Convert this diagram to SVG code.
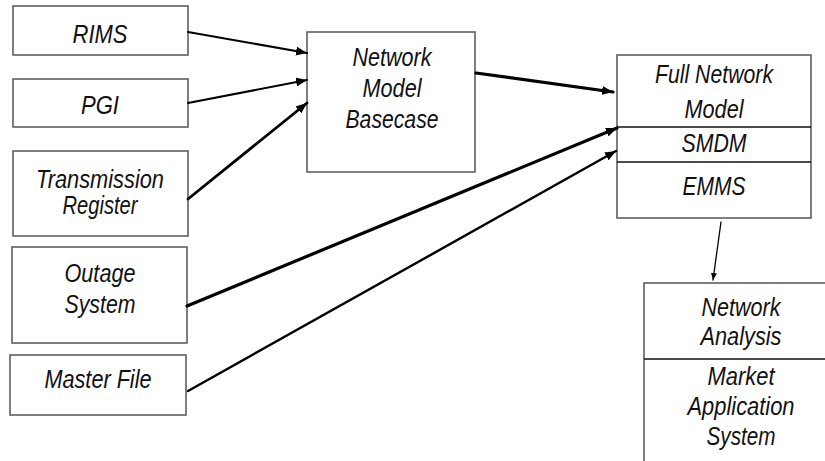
<svg xmlns="http://www.w3.org/2000/svg" width="825" height="461" viewBox="0 0 825 461">
<style>
.box{fill:#fff;stroke:#555;stroke-width:1.5}
.div{stroke:#111;stroke-width:1.5}
.t{font-family:"Liberation Sans",Arial,sans-serif;font-style:italic;font-size:25px;fill:#111;text-anchor:middle}
.c{fill:none;stroke:#000;stroke-linecap:round}
</style>
<defs>
<marker id="ah" markerUnits="userSpaceOnUse" markerWidth="12" markerHeight="9" refX="11" refY="4.5" orient="auto">
<path d="M0,0 L11,4.5 L0,9 z" fill="#000"/>
</marker>
<marker id="ahs" markerUnits="userSpaceOnUse" markerWidth="8" markerHeight="7" refX="7" refY="3" orient="auto">
<path d="M0,0 L7,3 L0,6 z" fill="#000"/>
</marker>
</defs>
<rect width="825" height="461" fill="#fff"/>
<g id="rims"><rect class="box" x="13" y="6" width="175" height="49"/><text class="t" x="100" y="43" textLength="55" lengthAdjust="spacingAndGlyphs">RIMS</text></g>
<g id="pgi"><rect class="box" x="13" y="79" width="175" height="48"/><text class="t" x="100" y="114" textLength="38" lengthAdjust="spacingAndGlyphs">PGI</text></g>
<g id="transmission"><rect class="box" x="13" y="151" width="175" height="85"/><text class="t" x="100" y="188" textLength="128" lengthAdjust="spacingAndGlyphs">Transmission</text><text class="t" x="100" y="214" textLength="75" lengthAdjust="spacingAndGlyphs">Register</text></g>
<g id="outage"><rect class="box" x="12" y="247" width="175" height="96"/><text class="t" x="100" y="282" textLength="71" lengthAdjust="spacingAndGlyphs">Outage</text><text class="t" x="100" y="313" textLength="71" lengthAdjust="spacingAndGlyphs">System</text></g>
<g id="master"><rect class="box" x="10" y="355" width="176" height="60"/><text class="t" x="98" y="388" textLength="107" lengthAdjust="spacingAndGlyphs">Master File</text></g>
<g id="basecase"><rect class="box" x="307" y="32" width="168" height="140"/><text class="t" x="392" y="66" textLength="79" lengthAdjust="spacingAndGlyphs">Network</text><text class="t" x="392" y="97" textLength="59" lengthAdjust="spacingAndGlyphs">Model</text><text class="t" x="392" y="128" textLength="93" lengthAdjust="spacingAndGlyphs">Basecase</text></g>
<g id="full"><rect class="box" x="617" y="55" width="194" height="163"/><line class="div" x1="617" y1="127" x2="811" y2="127"/><line class="div" x1="617" y1="162" x2="811" y2="162"/><text class="t" x="714" y="83" textLength="118" lengthAdjust="spacingAndGlyphs">Full Network</text><text class="t" x="714" y="118" textLength="59" lengthAdjust="spacingAndGlyphs">Model</text><text class="t" x="714" y="152" textLength="65" lengthAdjust="spacingAndGlyphs">SMDM</text><text class="t" x="714" y="195" textLength="63" lengthAdjust="spacingAndGlyphs">EMMS</text></g>
<g id="analysis"><rect class="box" x="644" y="283" width="220" height="220"/><line class="div" x1="644" y1="359" x2="825" y2="359"/><text class="t" x="741" y="316" textLength="79" lengthAdjust="spacingAndGlyphs">Network</text><text class="t" x="741" y="345" textLength="81" lengthAdjust="spacingAndGlyphs">Analysis</text><text class="t" x="741" y="385" textLength="67" lengthAdjust="spacingAndGlyphs">Market</text><text class="t" x="741" y="415" textLength="107" lengthAdjust="spacingAndGlyphs">Application</text><text class="t" x="741" y="445" textLength="69" lengthAdjust="spacingAndGlyphs">System</text></g>
<g id="connectors">
<line class="c" x1="188" y1="32" x2="307" y2="53" stroke-width="2.2" marker-end="url(#ah)"/>
<line class="c" x1="188" y1="103" x2="307" y2="80" stroke-width="2" marker-end="url(#ah)"/>
<line class="c" x1="188" y1="199" x2="307" y2="103" stroke-width="2.8" marker-end="url(#ah)"/>
<line class="c" x1="476" y1="73" x2="613" y2="92" stroke-width="3.2" marker-end="url(#ah)"/>
<line class="c" x1="187" y1="306" x2="617" y2="128" stroke-width="3.2" marker-end="url(#ah)"/>
<line class="c" x1="188" y1="391" x2="616" y2="151" stroke-width="2.4" marker-end="url(#ah)"/>
<line class="c" x1="721" y1="222" x2="713" y2="280" stroke-width="1.3" marker-end="url(#ahs)"/>
</g>
</svg>
